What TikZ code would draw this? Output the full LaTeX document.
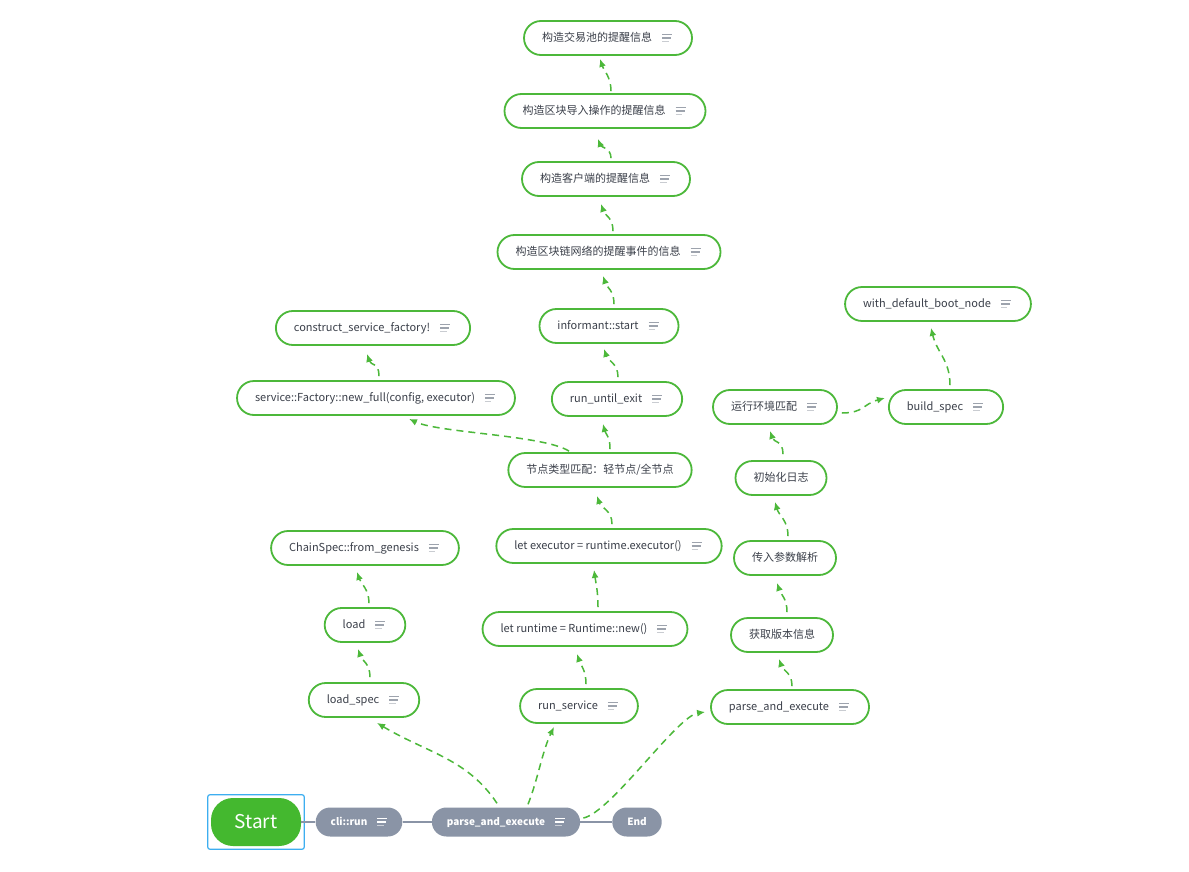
\documentclass[tikz,border=0pt]{standalone}
\usepackage{fontspec}
\setmainfont{Noto Sans CJK SC}
\usepackage{tikz}
\usetikzlibrary{arrows.meta, calc, fit}
\definecolor{mapgreen}{HTML}{4CB83A}
\definecolor{startgreen}{HTML}{44B82F}
\definecolor{slate}{HTML}{8A94A6}
\definecolor{ink}{HTML}{3B404A}
\definecolor{memogray}{HTML}{9DA3AD}
\definecolor{selblue}{HTML}{3DAEF0}

\tikzset{
  pics/memoicon/.style={code={
    \draw[line width=1.1] (0,-3.4) -- (10,-3.4) (0,0) -- (9,0);
    \draw[line width=1.1, opacity=.55] (0,3.4) -- (6.5,3.4);
  }},
  topic/.style={draw=mapgreen, line width=1.8, fill=white, text=ink,
    rounded corners=17, minimum height=34, inner xsep=18, inner ysep=0,
    text height=8.5, text depth=1.5},
  memo/.style={topic, execute at end node={\hspace{22pt}},
    path picture={\pic[memogray] at ($(path picture bounding box.east)+(-30,0)$) {memoicon};}},
  bar/.style={fill=slate, text=white, font=\bfseries, rounded corners=14.5,
    minimum height=29, inner xsep=15, inner ysep=0, text height=8.5, text depth=1.5},
  barmemo/.style={bar, execute at end node={\hspace{20pt}},
    path picture={\pic[white] at ($(path picture bounding box.east)+(-25,0)$) {memoicon};}},
  link/.style={draw=mapgreen, line width=1.5, dash pattern=on 7 off 5,
    -{Latex[length=8, width=7]}},
  wire/.style={draw=slate, line width=1.6}
}

\begin{document}
\begin{tikzpicture}[x=1pt, y=-1pt, font=\fontsize{11}{13}\selectfont]
  \useasboundingbox[fill=white] (0,0) rectangle (1189,872);

  % main line
  \node[fill=startgreen, text=white, font=\fontsize{19}{22}\selectfont,
    minimum width=90, minimum height=48, rounded corners=22] (start) at (256,822) {Start};
  \node[draw=selblue, line width=1.2, rounded corners=2, inner sep=3, fit=(start)] (sel) {};
  \node[barmemo] (cli) at (359,822) {cli::run};
  \node[barmemo] (pe) at (506,822) {parse\_and\_execute};
  \node[bar] (end) at (637,822) {End};
  \draw[wire] (start) -- (cli);
  \draw[wire] (cli) -- (pe);
  \draw[wire] (pe) -- (end);

  % chain spec branch
  \node[memo] (loadspec) at (364,700) {load\_spec};
  \node[memo] (load) at (365,625) {load};
  \node[memo] (chainspec) at (365,548) {ChainSpec::from\_genesis};

  % service branch
  \node[memo] (service) at (579,706) {run\_service};
  \node[memo] (runtime) at (585,629) {let runtime = Runtime::new()};
  \node[memo] (executor) at (609,546) {let executor = runtime.executor()};
  \node[topic] (match) at (600,470) {节点类型匹配：轻节点/全节点};
  \node[memo] (factory) at (376,398) {service::Factory::new\_full(config, executor)};
  \node[memo] (construct) at (373,328) {construct\_service\_factory!};
  \node[memo] (until) at (617,399) {run\_until\_exit};
  \node[memo] (informant) at (609,326) {informant::start};
  \node[memo] (network) at (609,252) {构造区块链网络的提醒事件的信息};
  \node[memo] (client) at (606,179) {构造客户端的提醒信息};
  \node[memo] (import) at (605,111) {构造区块导入操作的提醒信息};
  \node[memo] (pool) at (608,38) {构造交易池的提醒信息};

  % parse branch
  \node[memo] (parse) at (790,707) {parse\_and\_execute};
  \node[topic] (version) at (782,635) {获取版本信息};
  \node[topic] (args) at (785,558) {传入参数解析};
  \node[topic] (log) at (781,478) {初始化日志};
  \node[memo] (env) at (775,407) {运行环境匹配};
  \node[memo] (build) at (946,407) {build\_spec};
  \node[memo] (boot) at (938,304) {with\_default\_boot\_node};

  % dashed links
  \draw[link] ($(pe.north)+(-9,-4)$) .. controls +(-30,-45) and +(50,30) .. ($(loadspec.south)+(13,5)$);
  \draw[link] ($(loadspec.north)+(6,-5)$) .. controls +(0,-14) and +(4,12) .. ($(load.south)+(-7,6)$);
  \draw[link] ($(load.north)+(4,-4)$) .. controls +(0,-14) and +(4,12) .. ($(chainspec.south)+(-8,6)$);

  \draw[link] ($(pe.north)+(22,-3)$) .. controls +(10,-25) and +(-12,25) .. ($(service.south)+(-25,3)$);
  \draw[link] ($(service.north)+(7,-4)$) .. controls +(0,-14) and +(4,12) .. ($(runtime.south)+(-8,7)$);
  \draw[link] ($(runtime.north)+(13,-4)$) .. controls +(0,-16) and +(2,14) .. ($(executor.south)+(-15,6)$);
  \draw[link] ($(executor.north)+(3,-4)$) .. controls +(0,-14) and +(4,12) .. ($(match.south)+(-3,8)$);
  \draw[link] ($(match.north)+(-31,-1)$) .. controls +(-25,-16) and +(30,14) .. ($(factory.south)+(33,3)$);
  \draw[link] ($(factory.north)+(3,-4)$) .. controls +(0,-14) and +(4,12) .. ($(construct.south)+(-6,8)$);
  \draw[link] ($(match.north)+(10,-3)$) .. controls +(0,-14) and +(3,12) .. ($(until.south)+(-14,7)$);
  \draw[link] ($(until.north)+(1,-4)$) .. controls +(0,-14) and +(4,12) .. ($(informant.south)+(-5,5)$);
  \draw[link] ($(informant.north)+(5,-4)$) .. controls +(0,-14) and +(4,12) .. ($(network.south)+(-6,6)$);
  \draw[link] ($(network.north)+(4,-3)$) .. controls +(0,-14) and +(4,12) .. ($(client.south)+(-5,7)$);
  \draw[link] ($(client.north)+(5,-3)$) .. controls +(0,-10) and +(3,8) .. ($(import.south)+(-7,10)$);
  \draw[link] ($(import.north)+(6,-2)$) .. controls +(0,-14) and +(4,12) .. ($(pool.south)+(-8,3)$);

  \draw[link] ($(pe.east)+(3,-4)$) .. controls +(27,-5) and +(-28,4) .. ($(parse.west)+(-5,5)$);
  \draw[link] ($(parse.north)+(2,-3)$) .. controls +(0,-14) and +(4,12) .. ($(version.south)+(-3,6)$);
  \draw[link] ($(version.north)+(5,-5)$) .. controls +(0,-14) and +(4,12) .. ($(args.south)+(-8,7)$);
  \draw[link] ($(args.north)+(3,-4)$) .. controls +(0,-16) and +(4,14) .. ($(log.south)+(-6,6)$);
  \draw[link] ($(log.north)+(2,-6)$) .. controls +(0,-14) and +(4,12) .. ($(env.south)+(-5,6)$);
  \draw[link] ($(env.east)+(4,6)$) .. controls +(22,0) and +(-22,6) .. ($(build.west)+(-3,-9)$);
  \draw[link] ($(build.north)+(4,-4)$) .. controls +(0,-25) and +(6,25) .. ($(boot.south)+(-7,6)$);
\end{tikzpicture}
\end{document}
